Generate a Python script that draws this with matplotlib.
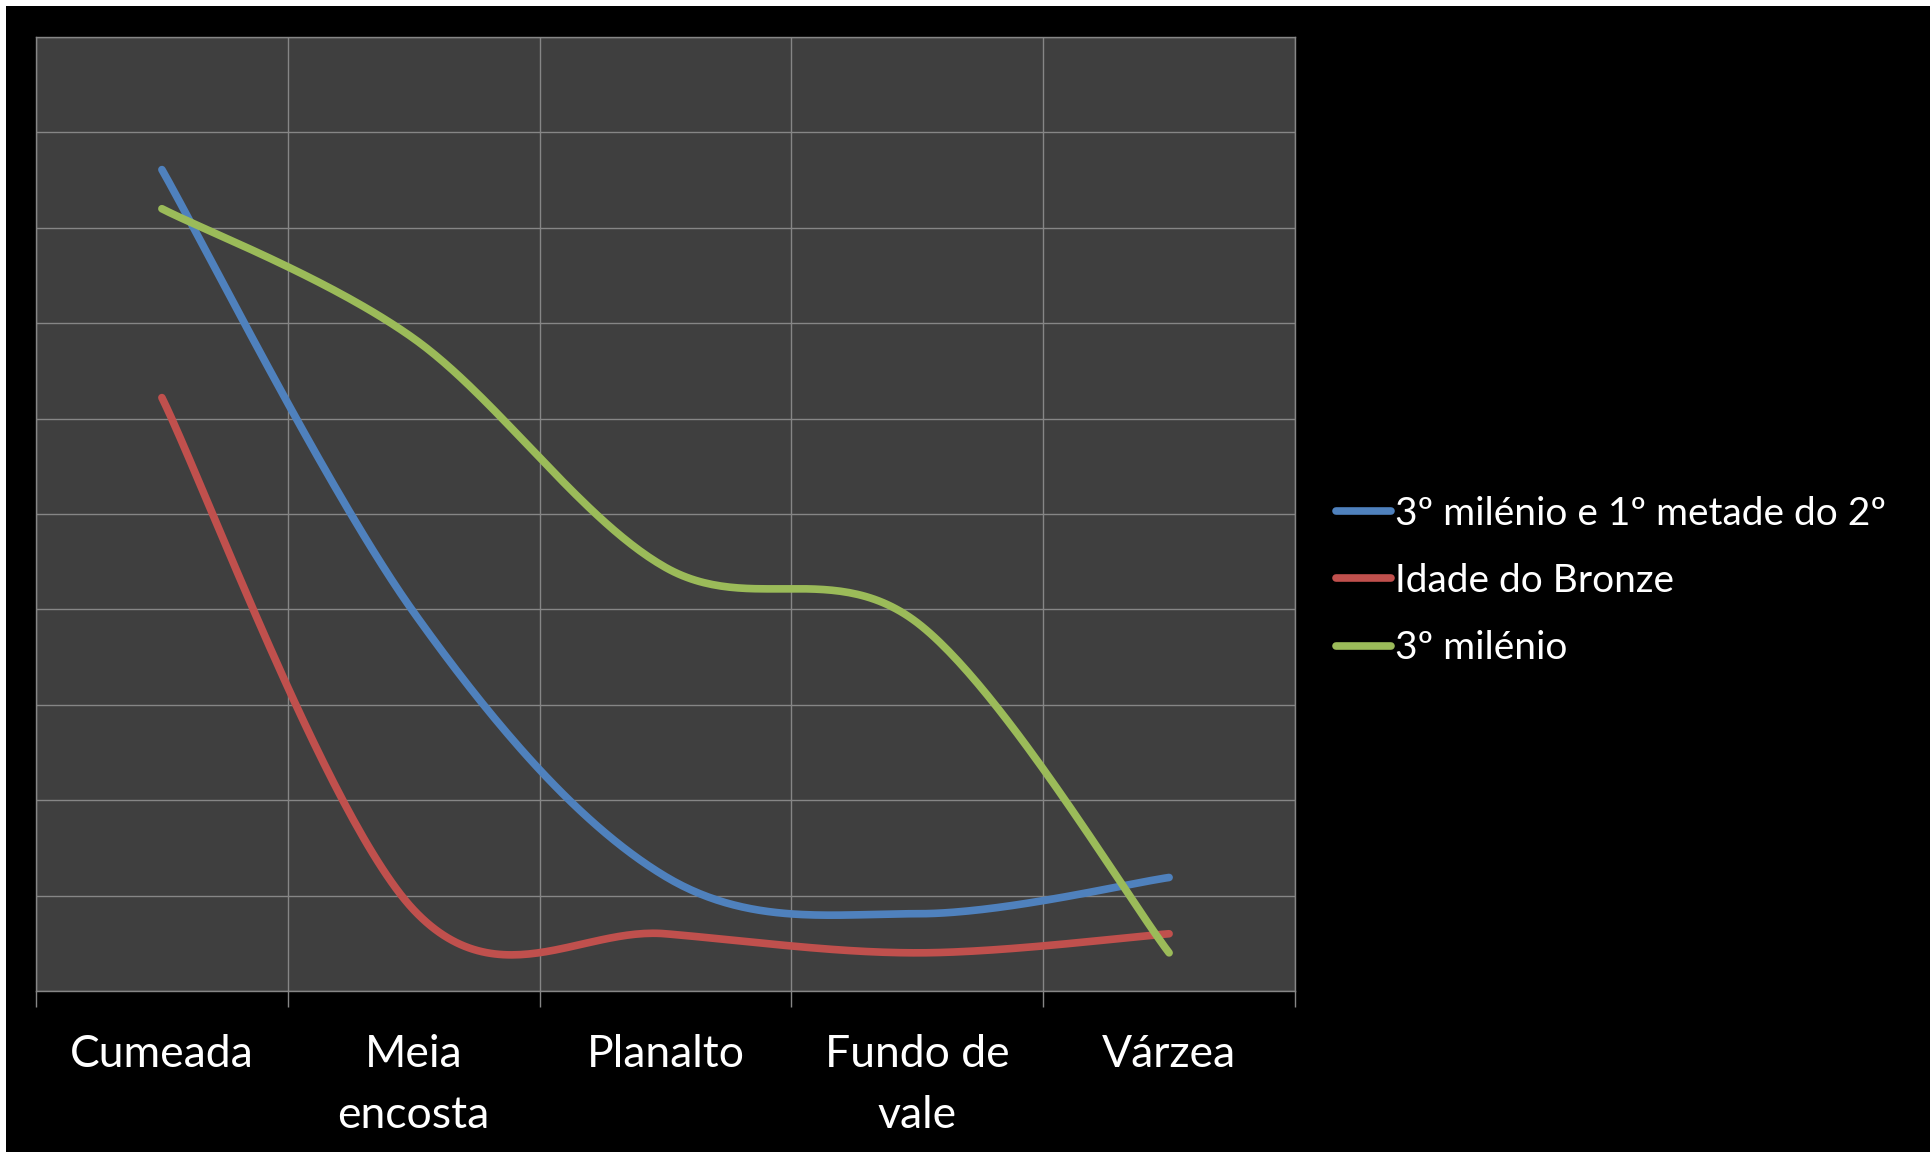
import numpy as np
import matplotlib
matplotlib.use("Agg")
import matplotlib.pyplot as plt
from matplotlib.patches import Rectangle

plt.rcParams['font.family'] = ['Lato', 'DejaVu Sans']

# Categories and series
locais = ['Cumeada', 'Meia\nencosta', 'Planalto', 'Fundo de\nvale', 'Várzea']
serie_3m_2m = [8.61, 3.97, 1.20, 0.81, 1.19]   # 3º milénio e 1º metade do 2º
serie_bronze = [6.22, 0.85, 0.60, 0.40, 0.60]  # Idade do Bronze
serie_3m = [8.20, 6.84, 4.44, 3.86, 0.40]      # 3º milénio
nomes = ['3º milénio e 1º metade do 2º', 'Idade do Bronze', '3º milénio']
cores = ['#4F81BD', '#C0504D', '#9BBB59']


def suave(x, y, n=60):
    # cubic bezier through the points, control points from neighbours (/6)
    x = np.asarray(x, float)
    y = np.asarray(y, float)
    xs, ys = [], []
    for i in range(len(x) - 1):
        i0 = max(i - 1, 0)
        i3 = min(i + 2, len(x) - 1)
        p0 = np.array([x[i], y[i]])
        p3 = np.array([x[i + 1], y[i + 1]])
        c1 = p0 + (np.array([x[i + 1], y[i + 1]]) - np.array([x[i0], y[i0]])) / 6
        c2 = p3 - (np.array([x[i3], y[i3]]) - np.array([x[i], y[i]])) / 6
        t = np.linspace(0, 1, n)[:, None]
        b = ((1 - t) ** 3) * p0 + 3 * ((1 - t) ** 2) * t * c1 + 3 * (1 - t) * t ** 2 * c2 + t ** 3 * p3
        xs.append(b[:, 0])
        ys.append(b[:, 1])
    return np.concatenate(xs), np.concatenate(ys)


fig = plt.figure(figsize=(19.3, 11.52), dpi=100, facecolor='white')
# black chart area with thin white margin top/left
fig.patches.append(Rectangle((6 / 1930, 0), 1, 1 - 6 / 1152, transform=fig.transFigure,
                             facecolor='black', edgecolor='none', zorder=-10))

ax = fig.add_axes([36 / 1930, 161 / 1152, 1259 / 1930, 954 / 1152])
ax.set_facecolor('#3F3F3F')

pos = np.arange(1, len(locais) + 1)
for vals, nome, cor in zip([serie_3m_2m, serie_bronze, serie_3m], nomes, cores):
    xs, ys = suave(pos, vals)
    ax.plot(xs, ys, color=cor, lw=5.5, solid_capstyle='round', label=nome, zorder=3)

ax.set_xlim(0.5, len(locais) + 0.5)
ax.set_ylim(0, 10)
ax.set_yticks(np.arange(0, 11, 1))
ax.set_yticklabels([])
ax.tick_params(axis='y', length=0)
ax.set_xticks(np.arange(0.5, len(locais) + 1, 1))
ax.set_xticks(pos, minor=True)
ax.set_xticklabels([])
ax.set_xticklabels(locais, minor=True)
ax.tick_params(axis='x', which='major', length=11.5, width=1, color='#868686')
ax.tick_params(axis='x', which='minor', length=0, pad=31, labelsize=32, labelcolor='white')
for lab in ax.get_xticklabels(minor=True):
    lab.set_linespacing(1.6)
ax.grid(True, which='major', color='#868686', lw=1.0)
ax.set_axisbelow(True)
for s in ax.spines.values():
    s.set_color('#868686')
    s.set_linewidth(1.0)

leg = ax.legend(loc='center left', bbox_to_anchor=(1336 / 1930, 1 - 581 / 1152),
                bbox_transform=fig.transFigure, frameon=False, fontsize=28,
                handlelength=1.42, handletextpad=0.1, labelspacing=0.8,
                borderpad=0, borderaxespad=0)
for t in leg.get_texts():
    t.set_color('white')
for h in leg.get_lines():
    h.set_solid_capstyle('round')

fig.savefig('out.png', dpi=100, facecolor=fig.get_facecolor())
